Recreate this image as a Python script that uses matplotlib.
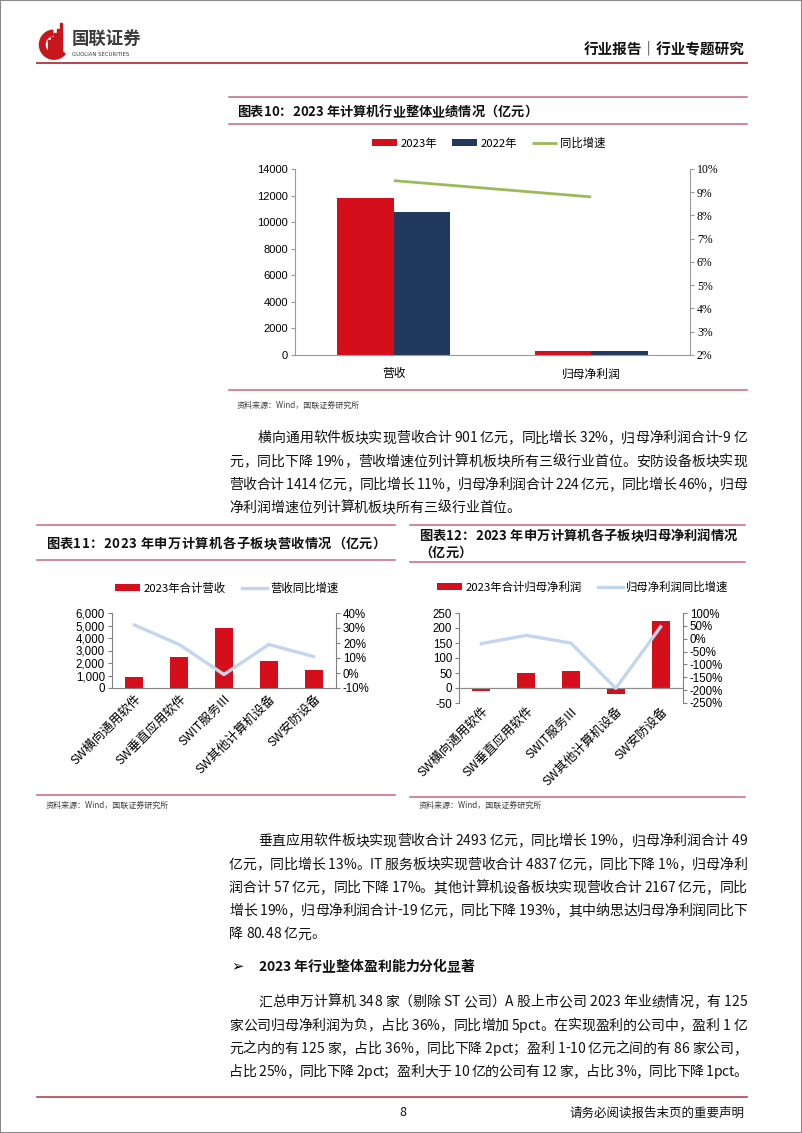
import matplotlib
matplotlib.use('Agg')
import matplotlib.pyplot as plt
import numpy as np
from matplotlib import ft2font
from matplotlib.font_manager import FontProperties, findfont, get_font
from matplotlib.lines import Line2D
from matplotlib.patches import Rectangle, Wedge

W, H = 802, 1133
CJK = 'Noto Sans CJK SC'
plt.rcParams['font.family'] = [CJK, 'DejaVu Sans']

RED = '#D40F1B'
NAVY = '#22395F'
GREEN = '#9BBB59'
LBLUE = '#C3D7EC'
AXGRAY = '#9A9A9A'
PINK = '#C7647E'
HDRRED = '#B8434A'

# ---- chart 10 data
cats10 = ['营收', '归母净利润']
val_2023 = [11790, 300]
val_2022 = [10780, 275]
yoy10 = [9.5, 8.8]

# ---- chart 11 / 12 data
sectors = ['SW横向通用软件', 'SW垂直应用软件', 'SWIT服务Ⅲ', 'SW其他计算机设备', 'SW安防设备']
rev_total = [901, 2493, 4837, 2167, 1414]
rev_yoy = [32, 19, -1, 19, 11]
np_total = [-9, 49, 57, -19, 224]
np_yoy = [-19, 13, -17, -193, 46]

# ---- body text (line by line as in the page)
para1 = [
    '横向通用软件板块实现营收合计 901 亿元，同比增长 32%，归母净利润合计-9 亿',
    '元，同比下降 19%，营收增速位列计算机板块所有三级行业首位。安防设备板块实现',
    '营收合计 1414 亿元，同比增长 11%，归母净利润合计 224 亿元，同比增长 46%，归母',
    '净利润增速位列计算机板块所有三级行业首位。',
]
para2 = [
    '垂直应用软件板块实现营收合计 2493 亿元，同比增长 19%，归母净利润合计 49',
    '亿元，同比增长 13%。IT 服务板块实现营收合计 4837 亿元，同比下降 1%，归母净利',
    '润合计 57 亿元，同比下降 17%。其他计算机设备板块实现营收合计 2167 亿元，同比',
    '增长 19%，归母净利润合计-19 亿元，同比下降 193%，其中纳思达归母净利润同比下',
    '降 80.48 亿元。',
]
heading = '2023 年行业整体盈利能力分化显著'
para3 = [
    '汇总申万计算机 348 家（剔除 ST 公司）A 股上市公司 2023 年业绩情况，有 125',
    '家公司归母净利润为负，占比 36%，同比增加 5pct。在实现盈利的公司中，盈利 1 亿',
    '元之内的有 125 家，占比 36%，同比下降 2pct；盈利 1-10 亿元之间的有 86 家公司，',
    '占比 25%，同比下降 2pct；盈利大于 10 亿的公司有 12 家，占比 3%，同比下降 1pct。',
]

if hasattr(ft2font, 'LoadFlags'):
    NO_HINT = ft2font.LoadFlags.NO_HINTING
else:
    NO_HINT = ft2font.LOAD_NO_HINTING


def fx(px):
    return px / W


def fy(py):
    return 1 - py / H


def px_axes(fig, left, top, right, bottom):
    return fig.add_axes([fx(left), fy(bottom), (right - left) / W, (bottom - top) / H])


def hline(fig, x0, x1, y, color, lw):
    fig.add_artist(Line2D([fx(x0), fx(x1)], [fy(y), fy(y)], transform=fig.transFigure,
                          color=color, lw=lw))


def advances(text, prop):
    font = get_font(findfont(prop))
    font.set_size(prop.get_size_in_points(), 100)
    return [font.load_char(ord(c), flags=NO_HINT).linearHoriAdvance / 65536 for c in text]


def put_line(fig, text, x0, y, size, x1=None, weight='normal', color='#111111'):
    """draw one line of text, char by char, stretched to x1 if given"""
    prop = FontProperties(family=CJK, size=size, weight=weight)
    adv = advances(text, prop)
    gap = 0
    if x1 is not None and len(text) > 1:
        gap = (x1 - x0 - sum(adv)) / (len(text) - 1)
    base = y + 0.38 * size * 100 / 72
    x = x0
    for c, a in zip(text, adv):
        if c != ' ':
            fig.text(fx(x), fy(base), c, fontproperties=prop, color=color,
                     ha='left', va='baseline')
        x += a + gap


def put_para(fig, lines, y0, step, last_free=True):
    for i, line in enumerate(lines):
        x0 = 258 if i == 0 else 229
        stretch = not (last_free and i == len(lines) - 1)
        put_line(fig, line, x0, y0 + i * step, 10, x1=747 if stretch else None)


def source(fig, x, y):
    fig.text(fx(x), fy(y), '资料来源：Wind，国联证券研究所', fontsize=5.8,
             color='#404040', ha='left', va='center')


def style_twin(ax, ax2, color=AXGRAY):
    for s in ['top', 'right']:
        ax.spines[s].set_visible(False)
    for s in ['top', 'left', 'bottom']:
        ax2.spines[s].set_visible(False)
    ax.spines['left'].set_color(color)
    ax.spines['bottom'].set_color(color)
    ax2.spines['right'].set_color(color)
    ax.tick_params(axis='y', length=3, color=color, pad=2)
    ax2.tick_params(axis='y', length=3, color=color, pad=2)
    ax.set_facecolor('none')


fig = plt.figure(figsize=(W / 100, H / 100), dpi=100)
fig.patch.set_facecolor('white')

# page border
fig.add_artist(Rectangle((0, 0), 1, 1, transform=fig.transFigure, fill=False,
                         edgecolor='#8a8a8a', lw=1.5))

# ---- header
logo = px_axes(fig, 38, 20, 70, 62)
logo.set_xlim(-1.1, 1.1)
logo.set_ylim(-1.1, 1.6)
logo.set_aspect('equal')
logo.axis('off')
logo.add_patch(Wedge((0, 0), 1.0, 95, 320, width=0.38, color='#C8161D'))
for bx, top in zip([-0.38, -0.18, 0.02, 0.22, 0.42], [0.35, 0.55, 0.8, 1.1, 1.5]):
    logo.add_patch(Rectangle((bx, -0.62), 0.13, top + 0.62, color='#C8161D'))
fig.text(fx(72), fy(40), '国联证券', fontsize=12.5, fontweight='bold', color='#3a3a3a',
         ha='left', va='center')
fig.text(fx(72), fy(55), 'GUOLIAN SECURITIES', fontsize=3.9, color='#3a3a3a',
         family='DejaVu Sans', ha='left', va='center')
fig.text(fx(745), fy(48), '行业报告｜行业专题研究', fontsize=10.5, fontweight='bold',
         color='#111111', ha='right', va='center')
hline(fig, 37, 747, 63, HDRRED, 1.4)

# ---- chart 10 frame
hline(fig, 229, 747, 97, PINK, 1.1)
put_line(fig, '图表10：2023 年计算机行业整体业绩情况（亿元）', 237, 111, 9.5, weight='bold')
hline(fig, 229, 747, 124, PINK, 1.1)
hline(fig, 229, 747, 390, PINK, 1.1)
source(fig, 237, 405)

ax = px_axes(fig, 295, 169, 690, 355)
x2 = np.arange(len(cats10))
w = 0.285
ax.bar(x2 - w / 2, val_2023, w, color=RED, label='2023年', zorder=2)
ax.bar(x2 + w / 2, val_2022, w, color=NAVY, label='2022年', zorder=2)
ax.set_xlim(-0.5, 1.5)
ax.set_ylim(0, 14000)
yt = list(range(0, 14001, 2000))
ax.set_yticks(yt, [str(v) for v in yt], fontsize=8, fontfamily='Liberation Sans')
ax.set_xticks(x2, cats10, fontsize=8.5)
ax.tick_params(axis='x', length=0, pad=9)
ax2 = ax.twinx()
ax2.plot(x2, yoy10, color=GREEN, lw=2.0, label='同比增速', solid_capstyle='butt')
ax2.set_ylim(2, 10)
pt = list(range(2, 11))
ax2.set_yticks(pt, [f'{v}%' for v in pt], fontsize=8.5, fontfamily='Liberation Serif')
style_twin(ax, ax2)
h1, l1 = ax.get_legend_handles_labels()
h2, l2 = ax2.get_legend_handles_labels()
ax2.legend(h1 + h2, l1 + l2, loc='center', bbox_to_anchor=(fx(489), fy(143)),
           bbox_transform=fig.transFigure, ncol=3, frameon=False, fontsize=8.2,
           handlelength=2.2, handleheight=0.55, handletextpad=0.3, columnspacing=1.3,
           borderpad=0, borderaxespad=0)

# ---- paragraph 1
put_para(fig, para1, 437, 23.3)

# ---- chart 11
hline(fig, 37, 395, 525, PINK, 1.1)
put_line(fig, '图表11：2023 年申万计算机各子板块营收情况（亿元）', 46, 543, 9.5,
         x1=386, weight='bold')
hline(fig, 37, 395, 560, PINK, 1.1)
hline(fig, 37, 395, 795, PINK, 1.1)
source(fig, 46, 805)

x5 = np.arange(len(sectors))
ax = px_axes(fig, 112, 613, 336, 688)
ax.bar(x5, rev_total, 0.4, color=RED, label='2023年合计营收', zorder=2)
ax.set_xlim(-0.5, 4.5)
ax.set_ylim(0, 6000)
yt = list(range(0, 6001, 1000))
ax.set_yticks(yt, [f'{v:,}' for v in yt], fontsize=8.3, fontfamily='Liberation Sans')
ax.set_xticks(x5, sectors, rotation=45, ha='right', va='top', rotation_mode='anchor',
              fontsize=9)
ax.tick_params(axis='x', length=0, pad=3)
ax2 = ax.twinx()
ax2.plot(x5, rev_yoy, color=LBLUE, lw=2.4, label='营收同比增速')
ax2.set_ylim(-10, 40)
pt = list(range(-10, 41, 10))
ax2.set_yticks(pt, [f'{v}%' for v in pt], fontsize=8.3, fontfamily='Liberation Sans')
style_twin(ax, ax2, '#808080')
h1, l1 = ax.get_legend_handles_labels()
h2, l2 = ax2.get_legend_handles_labels()
ax2.legend(h1 + h2, l1 + l2, loc='center', bbox_to_anchor=(fx(227), fy(588)),
           bbox_transform=fig.transFigure, ncol=2, frameon=False, fontsize=8.2,
           handlelength=2.2, handleheight=0.55, handletextpad=0.3, columnspacing=1.4,
           borderpad=0, borderaxespad=0)

# ---- chart 12
hline(fig, 410, 745, 525, PINK, 1.1)
put_line(fig, '图表12：2023 年申万计算机各子板块归母净利润情况', 419, 535, 9.5,
         x1=737, weight='bold')
put_line(fig, '（亿元）', 419, 552, 9.5, weight='bold')
hline(fig, 410, 745, 562, PINK, 1.1)
hline(fig, 410, 745, 797, PINK, 1.1)
source(fig, 419, 805)

ax = px_axes(fig, 459, 613, 683, 703)
ax.bar(x5, np_total, 0.4, color=RED, label='2023年合计归母净利润', zorder=2)
ax.axhline(0, color='#8c8c8c', lw=0.9, zorder=3)
ax.set_xlim(-0.5, 4.5)
ax.set_ylim(-50, 250)
yt = list(range(-50, 251, 50))
ax.set_yticks(yt, [str(v) for v in yt], fontsize=8.3, fontfamily='Liberation Sans')
ax.set_xticks(x5, sectors, rotation=45, ha='right', va='top', rotation_mode='anchor',
              fontsize=9)
ax.tick_params(axis='x', length=0, pad=1)
ax2 = ax.twinx()
ax2.plot(x5, np_yoy, color=LBLUE, lw=2.4, label='归母净利润同比增速')
ax2.set_ylim(-250, 100)
pt = list(range(-250, 101, 50))
ax2.set_yticks(pt, [f'{v}%' for v in pt], fontsize=8.3, fontfamily='Liberation Sans')
style_twin(ax, ax2, '#808080')
ax.spines['bottom'].set_visible(False)
h1, l1 = ax.get_legend_handles_labels()
h2, l2 = ax2.get_legend_handles_labels()
ax2.legend(h1 + h2, l1 + l2, loc='center', bbox_to_anchor=(fx(583), fy(587)),
           bbox_transform=fig.transFigure, ncol=2, frameon=False, fontsize=8.2,
           handlelength=2.2, handleheight=0.55, handletextpad=0.3, columnspacing=1.4,
           borderpad=0, borderaxespad=0)

# ---- paragraph 2, heading, paragraph 3
put_para(fig, para2, 840, 23.3)
fig.text(fx(231), fy(966), '➢', fontsize=10.5, fontweight='bold', family='DejaVu Sans',
         color='#000000', ha='left', va='center')
put_line(fig, heading, 258, 966, 10, weight='bold')
put_para(fig, para3, 1001, 23.3, last_free=False)

# ---- footer
hline(fig, 37, 747, 1097, HDRRED, 1.2)
fig.text(fx(403), fy(1112), '8', fontsize=9, color='#111111', ha='center', va='center')
fig.text(fx(745), fy(1113), '请务必阅读报告末页的重要声明', fontsize=9, color='#111111',
         ha='right', va='center')

fig.savefig('out.png', dpi=100)
